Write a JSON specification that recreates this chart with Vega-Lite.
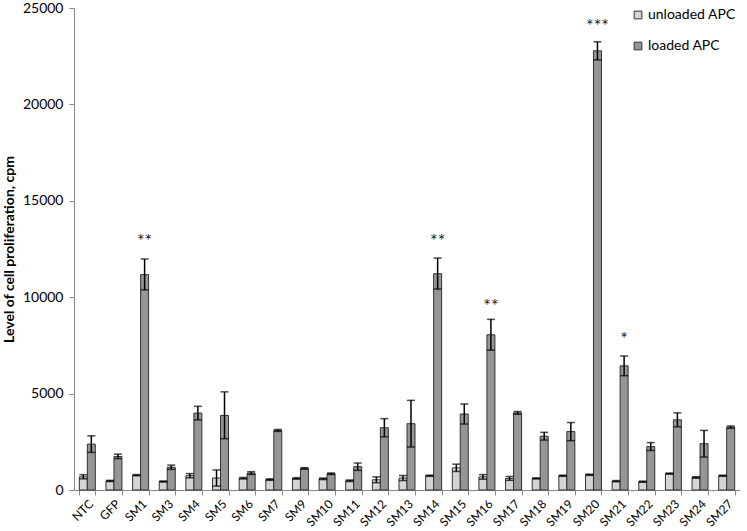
{
  "$schema": "https://vega.github.io/schema/vega-lite/v6.json",
  "width": 666,
  "height": 482,
  "autosize": {"type": "none"},
  "padding": {"left": 74, "top": 8, "right": 7, "bottom": 41},
  "background": "white",
  "config": {"view": {"stroke": null}, "font": "Lato"},
  "datasets": {
    "bars": [
      {"cat": "NTC", "group": "unloaded APC", "value": 680, "lo": 580, "hi": 790},
      {"cat": "NTC", "group": "loaded APC", "value": 2380, "lo": 1950, "hi": 2810},
      {"cat": "GFP", "group": "unloaded APC", "value": 470, "lo": 440, "hi": 500},
      {"cat": "GFP", "group": "loaded APC", "value": 1740, "lo": 1630, "hi": 1860},
      {"cat": "SM1", "group": "unloaded APC", "value": 770, "lo": 740, "hi": 800},
      {"cat": "SM1", "group": "loaded APC", "value": 11170, "lo": 10380, "hi": 11980},
      {"cat": "SM3", "group": "unloaded APC", "value": 440, "lo": 410, "hi": 470},
      {"cat": "SM3", "group": "loaded APC", "value": 1180, "lo": 1070, "hi": 1290},
      {"cat": "SM4", "group": "unloaded APC", "value": 740, "lo": 630, "hi": 850},
      {"cat": "SM4", "group": "loaded APC", "value": 3990, "lo": 3640, "hi": 4340},
      {"cat": "SM5", "group": "unloaded APC", "value": 620, "lo": 200, "hi": 1040},
      {"cat": "SM5", "group": "loaded APC", "value": 3870, "lo": 2660, "hi": 5090},
      {"cat": "SM6", "group": "unloaded APC", "value": 610, "lo": 570, "hi": 650},
      {"cat": "SM6", "group": "loaded APC", "value": 880, "lo": 810, "hi": 950},
      {"cat": "SM7", "group": "unloaded APC", "value": 540, "lo": 500, "hi": 580},
      {"cat": "SM7", "group": "loaded APC", "value": 3090, "lo": 3040, "hi": 3140},
      {"cat": "SM9", "group": "unloaded APC", "value": 600, "lo": 560, "hi": 640},
      {"cat": "SM9", "group": "loaded APC", "value": 1120, "lo": 1080, "hi": 1160},
      {"cat": "SM10", "group": "unloaded APC", "value": 580, "lo": 540, "hi": 620},
      {"cat": "SM10", "group": "loaded APC", "value": 840, "lo": 800, "hi": 880},
      {"cat": "SM11", "group": "unloaded APC", "value": 480, "lo": 440, "hi": 520},
      {"cat": "SM11", "group": "loaded APC", "value": 1210, "lo": 1020, "hi": 1400},
      {"cat": "SM12", "group": "unloaded APC", "value": 530, "lo": 380, "hi": 680},
      {"cat": "SM12", "group": "loaded APC", "value": 3230, "lo": 2760, "hi": 3700},
      {"cat": "SM13", "group": "unloaded APC", "value": 620, "lo": 490, "hi": 750},
      {"cat": "SM13", "group": "loaded APC", "value": 3440, "lo": 2230, "hi": 4650},
      {"cat": "SM14", "group": "unloaded APC", "value": 740, "lo": 710, "hi": 770},
      {"cat": "SM14", "group": "loaded APC", "value": 11220, "lo": 10420, "hi": 12030},
      {"cat": "SM15", "group": "unloaded APC", "value": 1150, "lo": 960, "hi": 1340},
      {"cat": "SM15", "group": "loaded APC", "value": 3940, "lo": 3420, "hi": 4460},
      {"cat": "SM16", "group": "unloaded APC", "value": 680, "lo": 560, "hi": 800},
      {"cat": "SM16", "group": "loaded APC", "value": 8050, "lo": 7250, "hi": 8850},
      {"cat": "SM17", "group": "unloaded APC", "value": 600, "lo": 500, "hi": 700},
      {"cat": "SM17", "group": "loaded APC", "value": 4000, "lo": 3930, "hi": 4070},
      {"cat": "SM18", "group": "unloaded APC", "value": 600, "lo": 570, "hi": 630},
      {"cat": "SM18", "group": "loaded APC", "value": 2790, "lo": 2590, "hi": 2990},
      {"cat": "SM19", "group": "unloaded APC", "value": 740, "lo": 710, "hi": 770},
      {"cat": "SM19", "group": "loaded APC", "value": 3030, "lo": 2560, "hi": 3500},
      {"cat": "SM20", "group": "unloaded APC", "value": 790, "lo": 760, "hi": 820},
      {"cat": "SM20", "group": "loaded APC", "value": 22780, "lo": 22310, "hi": 23250},
      {"cat": "SM21", "group": "unloaded APC", "value": 460, "lo": 430, "hi": 490},
      {"cat": "SM21", "group": "loaded APC", "value": 6440, "lo": 5930, "hi": 6950},
      {"cat": "SM22", "group": "unloaded APC", "value": 430, "lo": 400, "hi": 460},
      {"cat": "SM22", "group": "loaded APC", "value": 2250, "lo": 2050, "hi": 2460},
      {"cat": "SM23", "group": "unloaded APC", "value": 850, "lo": 820, "hi": 880},
      {"cat": "SM23", "group": "loaded APC", "value": 3640, "lo": 3280, "hi": 4000},
      {"cat": "SM24", "group": "unloaded APC", "value": 650, "lo": 610, "hi": 690},
      {"cat": "SM24", "group": "loaded APC", "value": 2400, "lo": 1710, "hi": 3090},
      {"cat": "SM27", "group": "unloaded APC", "value": 740, "lo": 710, "hi": 770},
      {"cat": "SM27", "group": "loaded APC", "value": 3260, "lo": 3200, "hi": 3320}
    ],
    "stars": [
      {"cat": "SM1", "group": "loaded APC", "y": 13000, "label": "**"},
      {"cat": "SM14", "group": "loaded APC", "y": 13000, "label": "**"},
      {"cat": "SM16", "group": "loaded APC", "y": 9650, "label": "**"},
      {"cat": "SM20", "group": "loaded APC", "y": 24150, "label": "***"},
      {"cat": "SM21", "group": "loaded APC", "y": 7950, "label": "*"}
    ]
  },
  "encoding": {
    "x": {
      "field": "cat",
      "type": "nominal",
      "sort": null,
      "scale": {"paddingInner": 0.4, "paddingOuter": 0.2},
      "axis": {
        "title": null,
        "labelAngle": -45,
        "labelAlign": "right",
        "labelBaseline": "top",
        "labelFontSize": 12,
        "labelColor": "#000",
        "labelPadding": 3,
        "tickBand": "extent",
        "tickSize": 5,
        "tickColor": "#888",
        "domainColor": "#888"
      }
    },
    "xOffset": {
      "field": "group",
      "type": "nominal",
      "sort": ["unloaded APC", "loaded APC"],
      "scale": {"domain": ["unloaded APC", "loaded APC"], "paddingInner": 0, "paddingOuter": 0}
    }
  },
  "layer": [
    {
      "data": {"name": "bars"},
      "mark": {"type": "bar", "stroke": "#333", "strokeWidth": 1},
      "encoding": {
        "y": {
          "field": "value",
          "type": "quantitative",
          "scale": {"domain": [0, 25000], "nice": false},
          "axis": {
            "title": "Level of cell proliferation, cpm",
            "titleFontSize": 14,
            "titleFontWeight": "bold",
            "titleColor": "#000",
            "titlePadding": 6,
            "values": [0, 5000, 10000, 15000, 20000, 25000],
            "format": "d",
            "labelFontSize": 14,
            "labelColor": "#000",
            "labelPadding": 6,
            "grid": false,
            "tickSize": 5,
            "tickColor": "#888",
            "domainColor": "#888"
          }
        },
        "color": {
          "field": "group",
          "type": "nominal",
          "scale": {"domain": ["unloaded APC", "loaded APC"], "range": ["#d4d4d4", "#969696"]},
          "legend": {
            "title": null,
            "orient": "none",
            "legendX": 557,
            "legendY": 0,
            "symbolType": "square",
            "symbolSize": 60,
            "symbolStrokeColor": "#333",
            "symbolStrokeWidth": 1,
            "labelFontSize": 14,
            "labelColor": "#000",
            "rowPadding": 17,
            "labelOffset": 3,
            "labelLimit": 200
          }
        }
      }
    },
    {
      "data": {"name": "bars"},
      "mark": {"type": "rule", "color": "#000", "strokeWidth": 1.5},
      "encoding": {
        "y": {"field": "lo", "type": "quantitative"},
        "y2": {"field": "hi"}
      }
    },
    {
      "data": {"name": "bars"},
      "mark": {"type": "tick", "orient": "horizontal", "color": "#000", "thickness": 1.5, "size": 8},
      "encoding": {
        "y": {"field": "hi", "type": "quantitative"}
      }
    },
    {
      "data": {"name": "bars"},
      "mark": {"type": "tick", "orient": "horizontal", "color": "#000", "thickness": 1.5, "size": 8},
      "encoding": {
        "y": {"field": "lo", "type": "quantitative"}
      }
    },
    {
      "data": {"name": "stars"},
      "mark": {"type": "text", "fontSize": 18, "fill": "#222", "baseline": "middle", "align": "center", "dy": 3},
      "encoding": {
        "y": {"field": "y", "type": "quantitative"},
        "text": {"field": "label"}
      }
    }
  ]
}
